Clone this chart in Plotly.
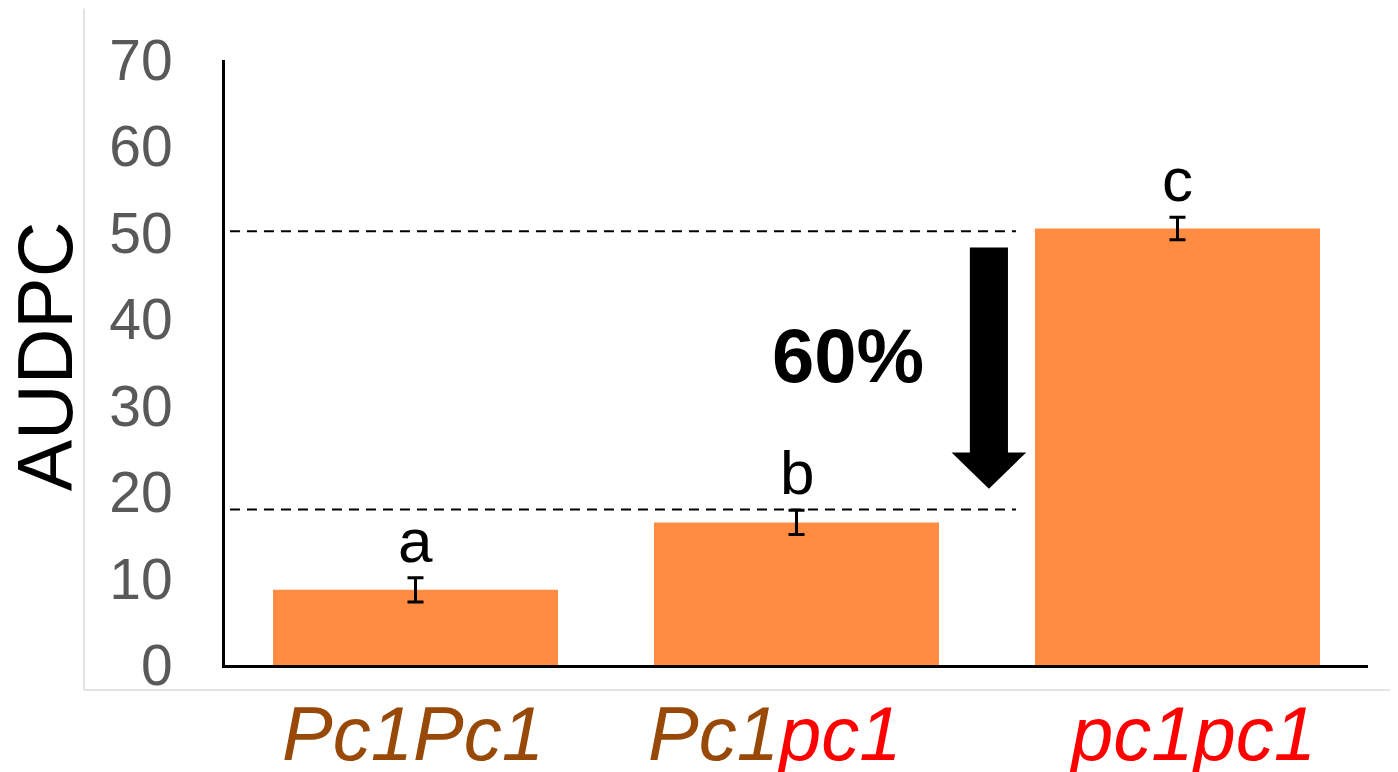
import plotly.graph_objects as go

# ---- data ----
categories = ["Pc1Pc1", "Pc1pc1", "pc1pc1"]
tick_labels = [
    "<i><span style='color:#984807'>Pc1Pc1</span></i>",
    "<i><span style='color:#984807'>Pc1</span><span style='color:#FF0000'>pc1</span></i>",
    "<i><span style='color:#FF0000'>pc1pc1</span></i>",
]
audpc_mean = [8.7, 16.5, 50.5]
audpc_err = [1.4, 1.4, 1.3]
sig_letters = ["a", "b", "c"]
ref_levels = [50.2, 18.0]
reduction_label = "60%"
y_ticks = [0, 10, 20, 30, 40, 50, 60, 70]

BAR = "#FF8C40"
FONT = "Liberation Sans, Arial, sans-serif"
label_xshift = [-3, -22, 15]

fig = go.Figure()
fig.add_trace(go.Bar(
    x=list(range(len(categories))),
    y=audpc_mean,
    marker=dict(color=BAR, line=dict(width=0)),
    error_y=dict(type="data", array=audpc_err, visible=True,
                 color="black", thickness=3, width=8),
    hoverinfo="skip",
))

# category labels (coloured, italic)
for i, (lab, dx) in enumerate(zip(tick_labels, label_xshift)):
    fig.add_annotation(x=i, y=0, xref="x", yref="y", text=lab, showarrow=False,
                       xanchor="center", yanchor="top", xshift=dx, yshift=-24,
                       font=dict(family=FONT, size=76))

# significance letters
for i, (m, e, s) in enumerate(zip(audpc_mean, audpc_err, sig_letters)):
    fig.add_annotation(x=i, y=m + e, text=s, showarrow=False,
                       xref="x", yref="y", yanchor="bottom", yshift=1,
                       font=dict(family=FONT, size=62, color="black"))

# dashed reference lines
for lv in ref_levels:
    fig.add_shape(type="line", xref="x", yref="y",
                  x0=-0.487, x1=1.576, y0=lv, y1=lv,
                  line=dict(color="black", width=2, dash="10px,7px"))

# big down arrow (shaft + head) between the reference levels
xc, sw, hw = 1.505, 0.05, 0.098
y_top, y_head, y_tip = 48.3, 24.6, 20.4
path = (f"M {xc-sw},{y_top} L {xc+sw},{y_top} L {xc+sw},{y_head} "
        f"L {xc+hw},{y_head} L {xc},{y_tip} L {xc-hw},{y_head} "
        f"L {xc-sw},{y_head} Z")
fig.add_shape(type="path", path=path, xref="x", yref="y",
              fillcolor="black", line=dict(width=0))

fig.add_annotation(x=1.135, y=35.8, xref="x", yref="y", text="<b>" + reduction_label + "</b>",
                   showarrow=False, xanchor="center", yanchor="middle",
                   font=dict(family=FONT, size=76, color="black"))

# y title
fig.add_annotation(x=-0.158, y=0.511, xref="paper", yref="paper", text="AUDPC",
                   textangle=-90, showarrow=False, xanchor="center", yanchor="middle",
                   font=dict(family=FONT, size=77, color="black"))

# light gray outer frame (left + bottom)
fig.add_shape(type="line", xref="paper", yref="paper",
              x0=-0.1234, x1=-0.1234, y0=-0.0413, y1=1.085,
              line=dict(color="#C8C8C8", width=1))
fig.add_shape(type="line", xref="paper", yref="paper",
              x0=-0.1234, x1=1.04, y0=-0.0413, y1=-0.0413,
              line=dict(color="#C8C8C8", width=1))

fig.update_layout(
    width=1390, height=764,
    margin=dict(l=217, r=30, t=52, b=107, autoexpand=False),
    paper_bgcolor="white", plot_bgcolor="white",
    showlegend=False, bargap=0.252,
    font=dict(family=FONT),
)
fig.update_xaxes(
    range=[-0.5, 2.5], showticklabels=False,
    showline=True, linecolor="black", linewidth=3, showgrid=False, zeroline=False,
    ticks="", automargin=False,
)
fig.update_yaxes(
    range=[0, 70], tickvals=y_ticks, showline=True, linecolor="black", linewidth=3,
    showgrid=False, zeroline=False, ticks="", automargin=False,
    tickfont=dict(family=FONT, size=57, color="#595959"), ticklabelstandoff=38,
)

fig.write_html("out.html")
